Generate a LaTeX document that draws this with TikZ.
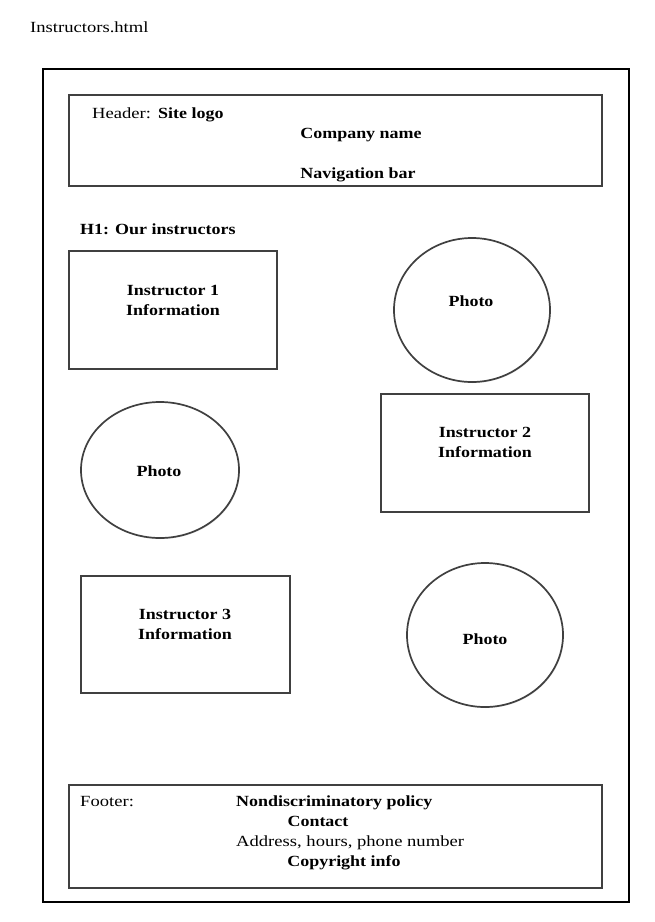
\documentclass[tikz,border=0pt]{standalone}
\usepackage{fontspec}
\setmainfont[FakeStretch=1.2,BoldFeatures={FakeStretch=1.16}]{Liberation Serif}
\usetikzlibrary{shadows}
\begin{document}
\begin{tikzpicture}[x=1pt,y=-1pt,
  frame/.style={draw=black,line width=2.4pt},
  panel/.style={draw=black!75,line width=1.7pt,fill=white,
    drop shadow={shadow xshift=0.8pt,shadow yshift=-1pt,opacity=0.25}},
  photo/.style={panel},
  txt/.style={font=\fontsize{15.5}{18}\selectfont,inner sep=0pt},
  lbl/.style={txt,anchor=base west},
  blbl/.style={txt,font=\fontsize{15.5}{18}\selectfont\bfseries,anchor=base},
  bwlbl/.style={txt,font=\fontsize{15.5}{18}\selectfont\bfseries,anchor=base west},
]
\useasboundingbox (0,0) rectangle (654,922);
\fill[white] (0,0) rectangle (654,922);

% page title
\node[lbl] (title) at (30,32) {Instructors.html};

% outer page frame
\draw[frame] (43,69) rectangle (629,902);

% header panel
\path[panel] (69,95) rectangle (602,186);
\node[lbl] (hdr) at (92,118) {Header:};
\node[bwlbl] (logo) at (158,118) {Site logo};
\node[blbl] (company) at (361,138) {Company name};
\node[blbl] (nav) at (358,178) {Navigation bar};

% heading
\node[bwlbl] (h1) at (80,234) {H1: Our instructors};

% instructor blocks
\path[panel] (69,251) rectangle (277,369);
\node[blbl] (info1a) at (173,295) {Instructor 1};
\node[blbl] (info1b) at (173,315) {Information};
\path[photo] (472,310) ellipse [x radius=78,y radius=72];
\node[blbl] (photo1) at (471,306) {Photo};

\path[photo] (160,470) ellipse [x radius=79,y radius=68];
\node[blbl] (photo2) at (159,476) {Photo};
\path[panel] (381,394) rectangle (589,512);
\node[blbl] (info2a) at (485,437) {Instructor 2};
\node[blbl] (info2b) at (485,457) {Information};

\path[panel] (81,576) rectangle (290,693);
\node[blbl] (info3a) at (185,619) {Instructor 3};
\node[blbl] (info3b) at (185,639) {Information};
\path[photo] (485,635) ellipse [x radius=78,y radius=72];
\node[blbl] (photo3) at (485,644) {Photo};

% footer panel
\path[panel] (69,785) rectangle (602,888);
\node[lbl] (ftr) at (80,806) {Footer:};
\node[bwlbl] (policy) at (236,806) {Nondiscriminatory policy};
\node[blbl] (contact) at (318,826) {Contact};
\node[lbl] (addr) at (236,846) {Address, hours, phone number};
\node[blbl] (copy) at (344,866) {Copyright info};
\end{tikzpicture}
\end{document}
